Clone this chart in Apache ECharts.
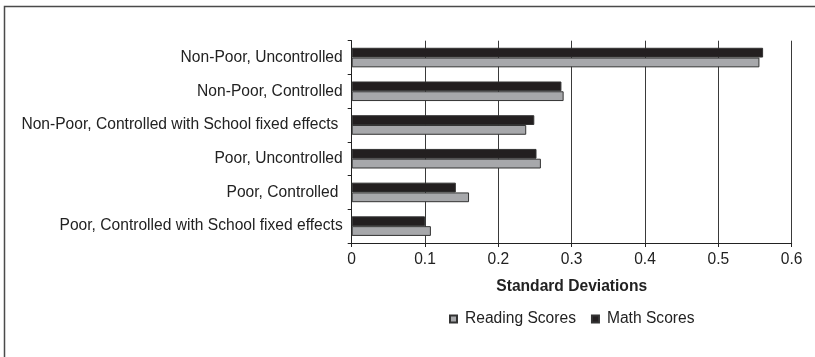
<!DOCTYPE html>
<html>
<head>
<meta charset="utf-8">
<script src="https://cdn.jsdelivr.net/npm/echarts@6/dist/echarts.min.js"></script>
<style>
  html, body { margin: 0; padding: 0; background: #fff; }
  #chart { width: 815px; height: 357px; }
</style>
</head>
<body>
<div id="chart"></div>
<script>
// Categories listed bottom-to-top (category axis runs upward)
const categories = [
  'Poor, Controlled with School fixed effects',
  'Poor, Controlled ',
  'Poor, Uncontrolled',
  'Non-Poor, Controlled with School fixed effects ',
  'Non-Poor, Controlled',
  'Non-Poor, Uncontrolled'
];
const readingScores = [0.108, 0.160, 0.258, 0.238, 0.289, 0.556];
const mathScores = [0.100, 0.142, 0.252, 0.249, 0.286, 0.561];
const xTicks = { min: 0, max: 0.6, step: 0.1 };

const FONT = '"Liberation Sans", Arial, Helvetica, sans-serif';
const FS = 15.6;
const chart = echarts.init(document.getElementById('chart'), null, { renderer: 'canvas' });

chart.setOption({
  animation: false,
  backgroundColor: '#fff',
  textStyle: { fontFamily: FONT },
  graphic: [{
    type: 'rect',
    shape: { x: 4.5, y: 6.5, width: 900, height: 500 },
    style: { fill: 'none', stroke: '#4a4a4a', lineWidth: 1.5 },
    silent: true
  }],
  grid: { left: 351.7, right: 23.3, top: 40.7, bottom: 114, containLabel: false },
  legend: {
    left: 444, top: 306,
    itemWidth: 7, itemHeight: 7, itemGap: 15,
    icon: 'rect',
    textStyle: { fontFamily: FONT, fontSize: FS, color: '#222', padding: [0, 0, 0, 3] },
    data: ['Reading Scores', 'Math Scores']
  },
  xAxis: {
    type: 'value',
    min: xTicks.min, max: xTicks.max, interval: xTicks.step,
    name: 'Standard Deviations',
    nameLocation: 'middle', nameGap: 36,
    nameTextStyle: { fontFamily: FONT, fontSize: FS, fontWeight: 'bold', color: '#222' },
    axisLine: { show: true, lineStyle: { color: '#222', width: 1 } },
    axisTick: { show: true, length: 4, lineStyle: { color: '#222' } },
    axisLabel: { fontFamily: FONT, fontSize: FS, color: '#222', margin: 9 },
    splitLine: { show: true, lineStyle: { color: '#3a3a3a', width: 1 } }
  },
  yAxis: {
    type: 'category',
    data: categories,
    axisLine: { show: true, lineStyle: { color: '#222', width: 1 } },
    axisTick: { show: true, length: 4, lineStyle: { color: '#222' } },
    axisLabel: { fontFamily: FONT, fontSize: FS, color: '#222', margin: 9 },
    splitLine: { show: false }
  },
  // Math is drawn first so it sits above Reading within each category band
  series: [
    {
      name: 'Math Scores', type: 'bar', data: mathScores,
      barGap: '0%', barCategoryGap: '42%',
      itemStyle: { color: '#231f20', borderColor: '#333', borderWidth: 1 }
    },
    {
      name: 'Reading Scores', type: 'bar', data: readingScores,
      barGap: '0%', barCategoryGap: '42%',
      itemStyle: { color: '#a7a8ab', borderColor: '#333', borderWidth: 1 }
    }
  ]
});
</script>
</body>
</html>
